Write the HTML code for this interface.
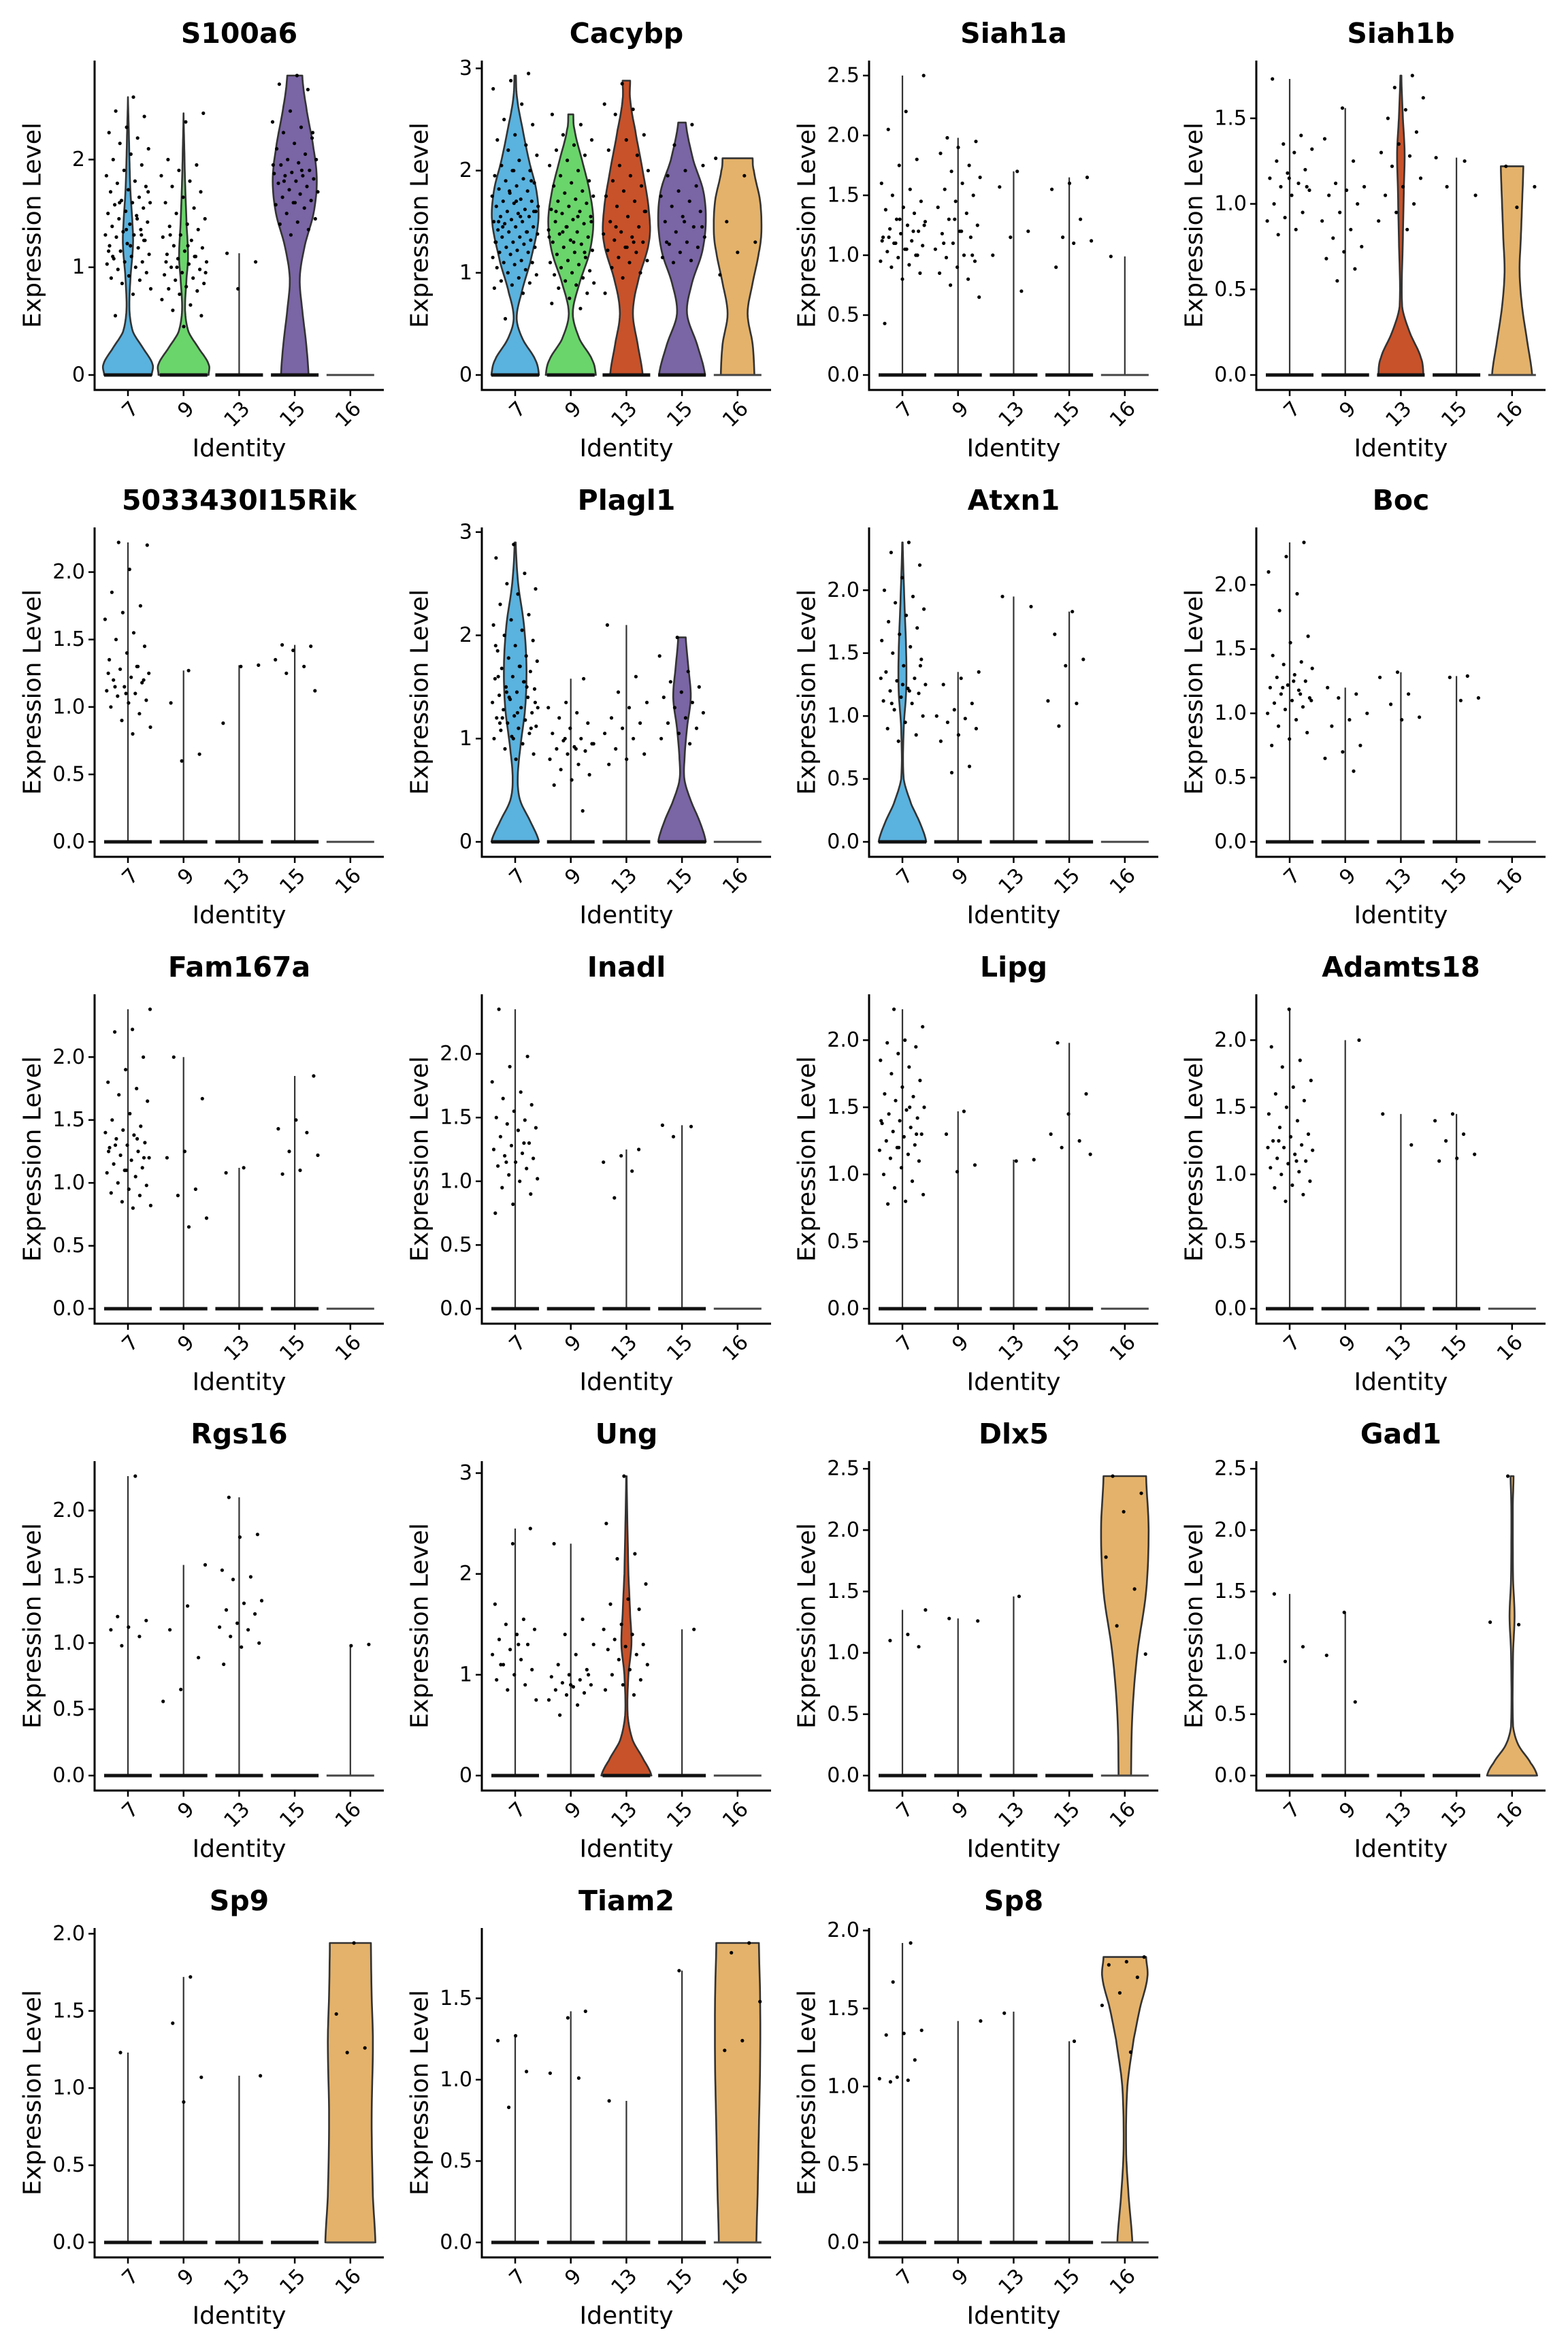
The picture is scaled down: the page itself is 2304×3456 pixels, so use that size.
<!DOCTYPE html>
<html><head><meta charset="utf-8">
<style>
html,body{margin:0;padding:0;background:#fff;}
svg{display:block;font-family:"DejaVu Sans","Liberation Sans",sans-serif;}
</style></head>
<body>
<svg id="fig" xmlns="http://www.w3.org/2000/svg" width="2304" height="3456" viewBox="0 0 2304 3456">
<rect width="2304" height="3456" fill="#fff"/>
</svg>
<script>
const categories = ['7','9','13','15','16'];
const groupColors = ['#5AB2DE','#6AD56B','#C8522A','#7A65A5','#E4B26A'];
const titles = ['S100a6','Cacybp','Siah1a','Siah1b','5033430I15Rik','Plagl1','Atxn1','Boc','Fam167a','Inadl','Lipg','Adamts18','Rgs16','Ung','Dlx5','Gad1','Sp9','Tiam2','Sp8'];
const panelMax = [2.78,2.93,2.5,1.75,2.22,2.9,2.38,2.33,2.38,2.35,2.23,2.23,2.26,2.97,2.44,2.44,1.94,1.84,1.92];
const tickVals = [
 [0,1,2],[0,1,2,3],[0,0.5,1,1.5,2,2.5],[0,0.5,1,1.5],[0,0.5,1,1.5,2],[0,1,2,3],[0,0.5,1,1.5,2],[0,0.5,1,1.5,2],
 [0,0.5,1,1.5,2],[0,0.5,1,1.5,2],[0,0.5,1,1.5,2],[0,0.5,1,1.5,2],[0,0.5,1,1.5,2],[0,1,2,3],[0,0.5,1,1.5,2,2.5],[0,0.5,1,1.5,2,2.5],
 [0,0.5,1,1.5,2],[0,0.5,1,1.5],[0,0.5,1,1.5,2]];
const groupTops = [
 [2.58,2.43,1.13,2.78,0],[2.93,2.55,2.88,2.47,2.12],[2.5,1.98,1.7,1.65,0.99],[1.73,1.56,1.75,1.27,1.22],
 [2.22,1.27,1.31,1.46,0],[2.9,1.58,2.1,1.98,0],[2.38,1.35,1.95,1.83,0],[2.33,1.2,1.32,1.29,0],
 [2.38,2.0,1.12,1.85,0],[2.35,0,1.25,1.44,0],[2.23,1.47,1.11,1.98,0],[2.23,2.0,1.45,1.45,0],
 [2.26,1.59,2.1,0,0.99],[2.45,2.3,2.97,1.45,0],[1.35,1.28,1.46,0,2.44],[1.48,1.33,0,0,2.44],
 [1.23,1.72,1.08,0,1.94],[1.27,1.42,0.87,1.67,1.84],[1.92,1.42,1.48,1.29,1.83]];
// violin shapes: [panel, group, [[value, relative half-width], ...]]
const violinShapes = [
 [0,0,[[0,0.95],[0.1,0.98],[0.25,0.6],[0.4,0.2],[0.6,0.06],[0.9,0.1],[1.2,0.2],[1.4,0.18],[1.7,0.1],[2.0,0.06],[2.3,0.03],[2.58,0]]],
 [0,1,[[0,1],[0.1,1],[0.25,0.6],[0.4,0.2],[0.6,0.06],[0.9,0.12],[1.1,0.18],[1.4,0.12],[1.8,0.06],[2.1,0.03],[2.43,0]]],
 [0,3,[[0,0.55],[0.3,0.45],[0.6,0.3],[0.9,0.2],[1.2,0.4],[1.5,0.75],[1.8,0.88],[2.1,0.75],[2.5,0.45],[2.78,0.3]]],
 [1,0,[[0,0.95],[0.15,0.8],[0.35,0.3],[0.55,0.06],[0.8,0.25],[1.1,0.6],[1.5,0.92],[1.8,0.85],[2.1,0.55],[2.4,0.3],[2.7,0.08],[2.93,0.03]]],
 [1,1,[[0,1],[0.15,0.85],[0.35,0.35],[0.6,0.08],[0.9,0.35],[1.2,0.75],[1.5,0.9],[1.8,0.75],[2.1,0.45],[2.4,0.15],[2.55,0.1]]],
 [1,2,[[0,0.65],[0.3,0.45],[0.6,0.26],[0.9,0.45],[1.3,0.9],[1.6,0.9],[2.0,0.65],[2.4,0.35],[2.7,0.15],[2.88,0.15]]],
 [1,3,[[0,0.92],[0.3,0.6],[0.6,0.2],[0.9,0.4],[1.2,0.8],[1.5,0.95],[1.8,0.85],[2.1,0.45],[2.47,0.15]]],
 [1,4,[[0,0.67],[0.3,0.6],[0.6,0.4],[0.9,0.6],[1.2,0.85],[1.4,0.95],[1.7,0.9],[2.0,0.65],[2.12,0.6]]],
 [3,2,[[0,0.9],[0.1,0.8],[0.25,0.35],[0.4,0.05],[0.8,0.08],[1.1,0.12],[1.3,0.15],[1.5,0.08],[1.75,0.02]]],
 [3,4,[[0,0.8],[0.2,0.6],[0.4,0.4],[0.6,0.3],[0.8,0.35],[1.0,0.4],[1.22,0.45]]],
 [5,0,[[0,0.95],[0.2,0.6],[0.4,0.2],[0.6,0.1],[0.9,0.2],[1.3,0.4],[1.7,0.45],[2.1,0.35],[2.5,0.12],[2.9,0.02]]],
 [5,3,[[0,0.95],[0.2,0.7],[0.4,0.35],[0.6,0.1],[0.8,0.1],[1.1,0.2],[1.4,0.35],[1.7,0.25],[1.98,0.15]]],
 [6,0,[[0,0.95],[0.15,0.7],[0.3,0.35],[0.5,0.05],[0.9,0.05],[1.2,0.15],[1.5,0.15],[1.9,0.08],[2.38,0.01]]],
 [13,2,[[0,1],[0.15,0.7],[0.35,0.25],[0.6,0.05],[1.0,0.08],[1.3,0.2],[1.6,0.15],[2.0,0.08],[2.97,0.01]]],
 [14,4,[[0,0.25],[0.5,0.3],[1.0,0.5],[1.5,0.85],[2.0,0.95],[2.44,0.85]]],
 [15,4,[[0,1],[0.1,0.75],[0.25,0.25],[0.4,0.04],[1.0,0.04],[1.3,0.1],[1.6,0.04],[2.2,0.03],[2.44,0.06]]],
 [16,4,[[0,1],[0.3,0.9],[0.8,0.85],[1.3,0.9],[1.6,0.85],[1.94,0.82]]],
 [17,4,[[0,0.75],[0.3,0.8],[0.7,0.85],[1.1,0.9],[1.5,0.9],[1.84,0.85]]],
 [18,4,[[0,0.3],[0.3,0.15],[0.6,0.05],[1.0,0.1],[1.3,0.35],[1.5,0.6],[1.7,0.9],[1.83,0.85]]]
];
// non-zero point values per panel, per group
const pointVals = [
 [[2.58,2.45,2.4,2.3,2.25,2.2,2.15,2.1,2.05,2.0,1.95,1.9,1.85,1.8,1.78,1.75,1.72,1.7,1.65,1.62,1.6,1.6,1.58,1.55,1.52,1.5,1.48,1.45,1.42,1.4,1.38,1.35,1.33,1.3,1.3,1.28,1.25,1.22,1.2,1.18,1.15,1.12,1.1,1.08,1.05,1.05,1.03,1.0,0.98,0.95,0.92,0.9,0.88,0.85,0.8,0.75,0.55,1.25,1.35,1.15,1.45,1.6,1.7,1.2,1.1,1.3],
  [2.43,2.35,2.0,1.95,1.9,1.85,1.8,1.75,1.7,1.65,1.6,1.55,1.5,1.45,1.4,1.38,1.35,1.3,1.28,1.25,1.2,1.18,1.15,1.12,1.1,1.08,1.05,1.03,1.0,0.98,0.95,0.93,0.9,0.88,0.85,0.82,0.8,0.78,0.75,0.7,0.65,0.6,0.55,0.45,1.05,1.1,1.0,0.95,1.2,1.3],
  [1.13,1.05,0.8],
  [2.78,2.7,2.65,2.45,2.35,2.3,2.25,2.2,2.15,2.1,2.05,2.0,2.0,1.97,1.95,1.9,1.88,1.87,1.85,1.85,1.82,1.8,1.78,1.75,1.72,1.7,1.68,1.65,1.62,1.6,1.58,1.55,1.5,1.45,1.42,1.4,1.35,1.3,1.95,1.9,1.8,2.25,1.6],
  []],
 [[2.95,2.88,2.8,2.65,2.5,2.45,2.35,2.3,2.25,2.2,2.15,2.1,2.05,2.0,2.0,1.95,1.92,1.9,1.88,1.85,1.82,1.8,1.78,1.75,1.72,1.7,1.7,1.68,1.65,1.62,1.6,1.6,1.58,1.55,1.55,1.52,1.5,1.5,1.48,1.45,1.45,1.42,1.4,1.4,1.38,1.35,1.35,1.32,1.3,1.3,1.28,1.25,1.25,1.22,1.2,1.2,1.18,1.15,1.12,1.1,1.1,1.08,1.05,1.03,1.0,0.98,0.95,0.92,0.9,0.88,0.85,0.8,0.55,1.6,1.7,1.5,1.4,1.8,1.65,1.55,1.45,1.9,2.0,1.3],
  [2.55,2.45,2.35,2.3,2.25,2.2,2.15,2.1,2.05,2.0,1.95,1.9,1.88,1.85,1.8,1.78,1.75,1.72,1.7,1.68,1.65,1.62,1.6,1.58,1.55,1.52,1.5,1.48,1.45,1.42,1.4,1.38,1.35,1.32,1.3,1.28,1.25,1.22,1.2,1.18,1.15,1.12,1.1,1.08,1.05,1.02,1.0,0.98,0.95,0.92,0.9,0.88,0.85,0.8,0.75,0.7,0.65,1.4,1.5,1.3,1.6,1.2,1.45,1.35,1.55],
  [2.85,2.65,2.6,2.55,2.35,2.3,2.2,2.15,2.05,2.0,1.95,1.9,1.85,1.8,1.75,1.7,1.65,1.6,1.55,1.5,1.45,1.4,1.38,1.35,1.32,1.3,1.25,1.22,1.2,1.15,1.12,1.1,1.05,1.0,0.95,0.8,1.3,1.45,1.6,1.25],
  [2.45,2.25,2.05,2.0,1.95,1.85,1.8,1.75,1.7,1.65,1.6,1.55,1.5,1.45,1.4,1.35,1.3,1.28,1.25,1.2,1.15,1.12,1.1,1.45,1.5,1.3],
  [2.12,1.95,1.5,1.3,1.2,0.98]],
 [[2.5,2.2,2.05,1.8,1.75,1.6,1.55,1.5,1.45,1.4,1.38,1.35,1.3,1.28,1.25,1.22,1.2,1.18,1.15,1.12,1.1,1.08,1.05,1.03,1.0,0.98,0.95,0.92,0.9,0.85,0.8,0.43,1.2,1.1,1.25,1.05,1.15,1.0,1.3,1.12],
  [1.98,1.95,1.9,1.85,1.75,1.7,1.65,1.6,1.55,1.5,1.45,1.4,1.35,1.3,1.25,1.2,1.18,1.15,1.1,1.05,1.0,0.98,0.95,0.9,0.85,0.8,0.75,0.65,1.2,1.1,1.0,1.3],
  [1.7,1.57,1.2,1.15,1.0,0.7],[1.65,1.6,1.55,1.3,1.15,1.12,1.1,0.9],[0.99]],
 [[1.73,1.4,1.35,1.32,1.3,1.25,1.2,1.18,1.15,1.12,1.1,1.08,1.05,1.0,0.95,0.92,0.9,0.85,0.82,1.1,1.15],
  [1.56,1.38,1.25,1.12,1.1,1.08,1.05,1.0,0.95,0.9,0.85,0.8,0.75,0.72,0.68,0.62,0.55],
  [1.75,1.68,1.62,1.55,1.5,1.42,1.35,1.3,1.28,1.22,1.15,1.1,1.05,1.0,0.95,0.9,0.85],[1.27,1.25,1.1,1.05],[1.22,1.1,0.98]],
 [[2.22,2.2,2.02,1.85,1.75,1.7,1.65,1.55,1.5,1.45,1.4,1.35,1.3,1.28,1.25,1.22,1.2,1.18,1.15,1.12,1.1,1.08,1.05,1.03,1.0,0.95,0.9,0.85,0.8,1.15,1.2,1.1,1.25,1.3],
  [1.27,1.03,0.65,0.6],[1.31,1.3,0.88],[1.46,1.45,1.42,1.35,1.3,1.25,1.12],[]],
 [[2.88,2.75,2.6,2.5,2.45,2.4,2.3,2.2,2.15,2.1,2.05,2.0,1.95,1.9,1.85,1.8,1.78,1.75,1.7,1.68,1.65,1.6,1.58,1.55,1.5,1.48,1.45,1.42,1.4,1.38,1.35,1.3,1.28,1.25,1.22,1.2,1.18,1.15,1.12,1.1,1.08,1.05,1.02,1.0,0.95,0.9,0.85,0.8,1.6,1.5,1.4,1.3,1.7,1.2,1.1,1.0,1.9,1.55,1.45,1.35,1.25,1.15],
  [1.58,1.35,1.3,1.25,1.2,1.15,1.1,1.05,1.0,0.98,0.95,0.92,0.9,0.88,0.85,0.8,0.75,0.7,0.65,0.6,0.55,0.3,1.0,0.95,0.9],
  [2.1,1.6,1.45,1.35,1.3,1.2,1.15,1.1,1.05,1.0,0.9,0.85,0.8,0.75],
  [1.98,1.8,1.65,1.55,1.5,1.45,1.4,1.35,1.3,1.25,1.2,1.15,1.1,1.05,1.0,0.95],[]],
 [[2.38,2.3,2.2,2.1,2.0,1.95,1.9,1.85,1.8,1.75,1.7,1.65,1.6,1.55,1.5,1.45,1.4,1.35,1.3,1.28,1.25,1.22,1.2,1.18,1.15,1.12,1.1,1.05,1.0,0.95,0.9,0.85,0.8,1.3,1.2,1.1,1.4,1.25],
  [1.35,1.3,1.25,1.1,1.05,1.0,0.98,0.95,0.9,0.85,0.8,0.6,0.55],[1.95,1.87],[1.83,1.65,1.45,1.4,1.12,1.1,0.92],[]],
 [[2.33,2.22,2.1,1.93,1.8,1.6,1.55,1.45,1.4,1.38,1.35,1.3,1.28,1.25,1.22,1.2,1.18,1.15,1.12,1.1,1.08,1.05,1.03,1.0,0.95,0.9,0.85,0.8,0.75,1.15,1.2,1.1,1.25],
  [1.2,1.15,1.12,1.0,0.95,0.9,0.75,0.7,0.65,0.55],[1.32,1.28,1.15,1.07,0.97,0.95],[1.29,1.28,1.12,1.1],[]],
 [[2.38,2.22,2.2,2.0,1.9,1.8,1.75,1.7,1.65,1.55,1.5,1.45,1.42,1.4,1.38,1.35,1.32,1.3,1.28,1.25,1.22,1.2,1.18,1.15,1.12,1.1,1.08,1.05,1.0,0.98,0.95,0.92,0.9,0.85,0.82,0.8,1.3,1.2,1.1,1.25,1.35],
  [2.0,1.67,1.25,1.2,0.95,0.9,0.72,0.65],[1.12,1.08],[1.85,1.5,1.43,1.4,1.25,1.22,1.1,1.07],[]],
 [[2.35,1.98,1.9,1.78,1.7,1.65,1.6,1.55,1.5,1.48,1.45,1.42,1.4,1.35,1.3,1.28,1.25,1.22,1.2,1.18,1.15,1.12,1.1,1.05,1.02,1.0,0.95,0.9,0.82,0.75,1.3,1.15],
  [],[1.25,1.2,1.15,1.08,0.87],[1.44,1.43,1.35],[]],
 [[2.23,2.1,2.0,1.98,1.95,1.9,1.85,1.8,1.75,1.7,1.65,1.6,1.58,1.55,1.5,1.48,1.45,1.42,1.4,1.38,1.35,1.32,1.3,1.28,1.25,1.22,1.2,1.18,1.15,1.12,1.1,1.05,1.0,0.95,0.9,0.85,0.8,0.78,1.3,1.2,1.4,1.5],
  [1.47,1.3,1.07,1.02],[1.11,1.1],[1.98,1.6,1.45,1.3,1.25,1.2,1.15],[]],
 [[2.23,1.95,1.85,1.8,1.7,1.65,1.6,1.55,1.5,1.45,1.4,1.35,1.3,1.28,1.25,1.22,1.2,1.18,1.15,1.12,1.1,1.08,1.05,1.02,1.0,0.95,0.92,0.9,0.85,0.8,1.2,1.1,1.25],
  [2.0],[1.45,1.22],[1.45,1.4,1.3,1.25,1.15,1.12,1.1],[]],
 [[2.26,1.2,1.17,1.12,1.1,1.05,0.98],[1.59,1.28,1.1,0.89,0.65,0.56],
  [2.1,1.82,1.8,1.55,1.5,1.48,1.32,1.3,1.25,1.22,1.15,1.12,1.1,1.05,1.0,0.97,0.84],[],[0.99,0.98]],
 [[2.45,2.3,1.7,1.55,1.5,1.45,1.4,1.35,1.3,1.25,1.2,1.15,1.1,1.05,1.0,0.95,0.9,0.85,0.75,1.3,1.1],
  [2.3,1.55,1.4,1.3,1.2,1.1,1.05,1.0,0.98,0.95,0.92,0.9,0.88,0.85,0.82,0.8,0.75,0.7,0.6,1.0,0.9],
  [2.97,2.5,2.2,2.15,1.9,1.75,1.7,1.65,1.5,1.45,1.4,1.35,1.3,1.28,1.25,1.2,1.15,1.1,1.05,1.0,0.95,0.9,0.85,0.8],[1.45],[]],
 [[1.35,1.15,1.1,1.05],[1.28,1.26],[1.46],[],[2.44,2.3,2.15,1.78,1.52,1.22,0.99]],
 [[1.48,1.05,0.93],[1.33,0.98,0.6],[],[],[2.44,1.25,1.23]],
 [[1.23],[1.72,1.42,1.07,0.91],[1.08],[],[1.94,1.48,1.26,1.23]],
 [[1.27,1.24,1.05,0.83],[1.42,1.38,1.04,1.01],[0.87],[1.67],[1.84,1.78,1.48,1.24,1.18]],
 [[1.92,1.67,1.36,1.34,1.33,1.17,1.06,1.05,1.04,1.03],[1.42],[1.47],[1.29],[1.83,1.8,1.78,1.7,1.6,1.52,1.22]]
];

const NS='http://www.w3.org/2000/svg';
const svg=document.getElementById('fig');
function mk(tag, attrs, parent){
  const e=document.createElementNS(NS,tag);
  for(const k in attrs) e.setAttribute(k,attrs[k]);
  (parent||svg).appendChild(e);
  return e;
}
const COLW=569, ROWH=686, SP=81.7, HW=36.8;

// smooth a width profile with Catmull-Rom sampling (presentation only)
function smoothProfile(prof){
  const out=[];
  for(let j=0;j<prof.length-1;j++){
    const p0=prof[Math.max(0,j-1)], p1=prof[j], p2=prof[j+1], p3=prof[Math.min(prof.length-1,j+2)];
    for(let s=0;s<8;s++){
      const t=s/8, t2=t*t, t3=t2*t;
      const f=(a,b,c,d)=>0.5*((2*b)+(-a+c)*t+(2*a-5*b+4*c-d)*t2+(-a+3*b-3*c+d)*t3);
      out.push([p1[0]+(p2[0]-p1[0])*t, Math.max(0,f(p0[1],p1[1],p2[1],p3[1]))]);
    }
  }
  out.push(prof[prof.length-1]);
  return out;
}

titles.forEach((title,p)=>{
  const r=Math.floor(p/4), c=p%4;
  const ox=c*COLW, oy=r*ROWH;
  const left=ox+139, right=ox+564, top=oy+89, bot=oy+573;
  const M=panelMax[p];
  const k=(bot-top)/(1.1*M);
  const yS=v=>bot-(v+0.05*M)*k;
  const xS=i=>left+(i+0.6)*SP;
  const g=mk('g',{});
  
  

  categories.forEach((cat,i)=>{
    const shape=violinShapes.find(s=>s[0]===p&&s[1]===i);
    const cx=xS(i);
    if(shape){
      const prof=smoothProfile(shape[2]);
      let d='';
      prof.forEach((pt,j)=>{d+=(j?'L':'M')+(cx+pt[1]*HW).toFixed(1)+','+yS(pt[0]).toFixed(1);});
      for(let j=prof.length-1;j>=0;j--){d+='L'+(cx-prof[j][1]*HW).toFixed(1)+','+yS(prof[j][0]).toFixed(1);}
      d+='Z';
      const v=mk('path',{d:d,fill:groupColors[i],stroke:'#333','stroke-width':2.6,'stroke-linejoin':'round'},g);
      
      
    } else if(groupTops[p][i]>0){
      const ln=mk('line',{x1:cx,x2:cx,y1:yS(0),y2:yS(groupTops[p][i]),stroke:'#333','stroke-width':2.2},g);
      
      
    }
    const zb=mk('line',{x1:cx-35,x2:cx+35,y1:yS(0),y2:yS(0),stroke:i===4?'#444':'#111','stroke-width':i===4?3:5},g);
    
    
    (pointVals[p][i]||[]).forEach((v,j)=>{
      const jx=(((j+1)*0.6180339+i*0.31+p*0.17)%1-0.5)*2*34;
      const pt=mk('circle',{cx:(cx+jx).toFixed(1),cy:yS(v).toFixed(1),r:2.6,fill:'#000'},g);
      
      
    });
  });

  const ya=mk('line',{x1:left,x2:left,y1:top,y2:bot+1.5,stroke:'#000','stroke-width':3},g);
  
  
  const xa=mk('line',{x1:left-1.5,x2:right,y1:bot,y2:bot,stroke:'#000','stroke-width':3},g);
  
  
  const frac=tickVals[p].some(t=>t%1!==0);
  tickVals[p].forEach(t=>{
    const y=yS(t);
    mk('line',{x1:left-9,x2:left,y1:y,y2:y,stroke:'#000','stroke-width':2.5},g);
    const tl=mk('text',{x:left-14,y:y,'text-anchor':'end','dominant-baseline':'central','font-size':30,fill:'#000'},g);
    tl.textContent=frac?t.toFixed(1):String(t);
    
    
  });
  categories.forEach((cat,i)=>{
    const cx=xS(i);
    mk('line',{x1:cx,x2:cx,y1:bot,y2:bot+9,stroke:'#000','stroke-width':2.5},g);
    const tl=mk('text',{transform:`translate(${cx+2},${bot+14}) rotate(-45)`,'text-anchor':'end','dominant-baseline':'hanging','font-size':30,fill:'#000'},g);
    tl.textContent=cat;
    
    
  });
  const tt=mk('text',{x:(left+right)/2,y:oy+49,'text-anchor':'middle','dominant-baseline':'central','font-size':41,'font-weight':'bold',fill:'#000'},g);
  tt.textContent=title;
  
  
  const yl=mk('text',{transform:`translate(${ox+48},${(top+bot)/2}) rotate(-90)`,'text-anchor':'middle','dominant-baseline':'central','font-size':36,fill:'#000'},g);
  yl.textContent='Expression Level';
  
  
  const xl=mk('text',{x:(left+right)/2,y:oy+659,'text-anchor':'middle','dominant-baseline':'central','font-size':36,fill:'#000'},g);
  xl.textContent='Identity';
  
  
});
</script>
</body></html>
